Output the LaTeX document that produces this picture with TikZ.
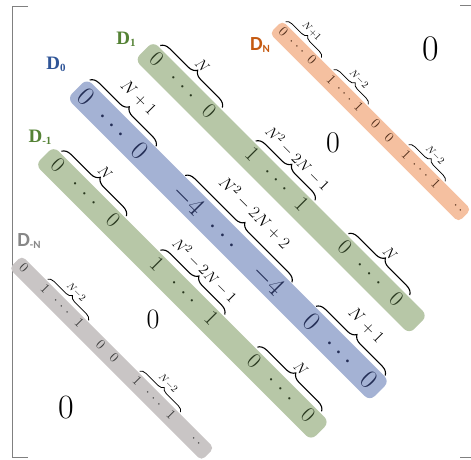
\documentclass[tikz,border=0pt]{standalone}
\usepackage{fix-cm}
\usepackage{fontspec}
\newfontfamily\serifbold{Liberation Serif}
\newfontfamily\carlito{Carlito}
\usetikzlibrary{decorations.pathreplacing}
\definecolor{gband}{RGB}{183,199,167}
\definecolor{bband}{RGB}{164,178,212}
\definecolor{oband}{RGB}{245,192,160}
\definecolor{yband}{RGB}{201,197,197}
\definecolor{glab}{RGB}{84,130,53}
\definecolor{blab}{RGB}{47,85,151}
\definecolor{olab}{RGB}{197,90,17}
\definecolor{ylab}{RGB}{135,135,135}
\definecolor{gtxt}{RGB}{40,55,30}
\definecolor{btxt}{RGB}{35,45,85}
\definecolor{otxt}{RGB}{80,45,25}
\definecolor{ytxt}{RGB}{60,60,60}
\definecolor{framecol}{RGB}{128,128,128}
\newcommand\lsub[1]{{\fontsize{11}{11}\selectfont\raisebox{-2pt}{#1}}}
\begin{document}
\begin{tikzpicture}[x=1pt,y=1pt,
  gt/.style={anchor=base,inner sep=0pt,text=gtxt,font=\fontsize{22}{22}\selectfont},
  bt/.style={anchor=base,inner sep=0pt,text=btxt,font=\fontsize{27}{27}\selectfont},
  ot/.style={anchor=base,inner sep=0pt,text=otxt,font=\fontsize{14}{14}\selectfont},
  yt/.style={anchor=base,inner sep=0pt,text=ytxt,font=\fontsize{14}{14}\selectfont},
  biglab/.style={anchor=south,inner sep=0.5pt,font=\fontsize{15}{15}\selectfont},
  blulab/.style={anchor=south,inner sep=0.5pt,font=\fontsize{17}{17}\selectfont},
  smalllab/.style={anchor=south,inner sep=0.5pt,font=\fontsize{10}{10}\selectfont},
  bigbrace/.style={decorate,decoration={brace,amplitude=9pt},line width=1.1pt},
  smallbrace/.style={decorate,decoration={brace,amplitude=6pt},line width=0.8pt},
  zero/.style={inner sep=0pt},
  dlab/.style={inner sep=0pt,font=\serifbold\bfseries\fontsize{19}{19}\selectfont},
  dlabs/.style={inner sep=0pt,font=\carlito\bfseries\fontsize{20}{20}\selectfont},
  bracketline/.style={draw=framecol,line width=1pt}
]
\useasboundingbox (0,0) rectangle (471,-460);

% matrix brackets
\draw[bracketline] (28,-7) -- (12,-7) -- (12,-457) -- (28,-457);
\draw[bracketline] (460,-6) -- (471,-6);
\draw[bracketline] (460,-457) -- (471,-457);

% ---------- D_N (orange) ----------
\begin{scope}[shift={(276,-27)},rotate=-45,transform shape]
\fill[oband,rounded corners=5pt] (0,-9) rectangle (267,9);
\node[ot] (na) at (8.5,-2.5) {$0$};
\node[ot] (nb) at (21,-2.5) {$\cdot$};
\node[ot] (nc) at (28.5,-2.5) {$\cdot$};
\node[ot] (nd) at (36,-2.5) {$\cdot$};
\node[ot] (ne) at (49,-2.5) {$0$};
\draw[smallbrace] (3,10.5) -- (54,10.5);
\node[smalllab] (nf) at (28.5,17.5) {$N{+}1$};
\node[ot] (ng) at (76,-2.5) {$1$};
\node[ot] (nh) at (88,-2.5) {$\cdot$};
\node[ot] (ni) at (95.5,-2.5) {$\cdot$};
\node[ot] (nj) at (103,-2.5) {$\cdot$};
\node[ot] (nk) at (115,-2.5) {$1$};
\draw[smallbrace] (71,10.5) -- (120,10.5);
\node[smalllab] (nl) at (95.5,17.5) {$N{-}2$};
\node[ot] (nm) at (139,-2.5) {$0$};
\node[ot] (nn) at (158,-2.5) {$0$};
\node[ot] (no) at (182,-2.5) {$1$};
\node[ot] (np) at (195,-2.5) {$\cdot$};
\node[ot] (nq) at (203,-2.5) {$\cdot$};
\node[ot] (nr) at (211,-2.5) {$\cdot$};
\node[ot] (ns) at (224,-2.5) {$1$};
\draw[smallbrace] (177,10.5) -- (229,10.5);
\node[smalllab] (nt) at (203,17.5) {$N{-}2$};
\node[ot] (nu) at (253,-2.5) {$\cdot$};
\node[ot] (nv) at (260,-2.5) {$\cdot$};
\end{scope}

% ---------- D_1 (green) ----------
\begin{scope}[shift={(144,-50.5)},rotate=-45,transform shape]
\fill[gband,rounded corners=7pt] (0,-13) rectangle (388,13);
\node[gt] (pa) at (15,-4) {$0$};
\node[gt] (pb) at (40,-4) {$\cdot$};
\node[gt] (pc) at (53,-4) {$\cdot$};
\node[gt] (pd) at (65,-4) {$\cdot$};
\node[gt] (pe) at (89,-4) {$0$};
\draw[bigbrace] (8,15) -- (96,15);
\node[biglab] (pf) at (52,25) {$N$};
\node[gt] (pg) at (150,-4) {$1$};
\node[gt] (ph) at (173,-4) {$\cdot$};
\node[gt] (pi) at (185,-4) {$\cdot$};
\node[gt] (pj) at (197,-4) {$\cdot$};
\node[gt] (pk) at (220,-4) {$1$};
\draw[bigbrace] (143,15) -- (227,15);
\node[biglab] (pl) at (185,25) {$N^2-2N-1$};
\node[gt] (pm) at (281,-4) {$0$};
\node[gt] (pn) at (304,-4) {$\cdot$};
\node[gt] (po) at (317,-4) {$\cdot$};
\node[gt] (pp) at (330,-4) {$\cdot$};
\node[gt] (pq) at (354,-4) {$0$};
\draw[bigbrace] (274,15) -- (361,15);
\node[biglab] (pr) at (317.5,25) {$N$};
\end{scope}

% ---------- D_0 (blue) ----------
\begin{scope}[shift={(77,-88.5)},rotate=-45,transform shape]
\fill[bband,rounded corners=7pt] (0,-14) rectangle (428,14);
\node[bt] (za) at (12,-8) {$0$};
\node[bt] (zb) at (38,-8) {$\cdot$};
\node[bt] (zc) at (51,-8) {$\cdot$};
\node[bt] (zd) at (63,-8) {$\cdot$};
\node[bt] (ze) at (88,-8) {$0$};
\draw[bigbrace] (3,15) -- (97,15);
\node[blulab] (zf) at (50,30) {$N+1$};
\node[bt] (zg) at (157,-8) {$-4$};
\node[bt] (zh) at (194,-8) {$\cdot$};
\node[bt] (zi) at (207,-8) {$\cdot$};
\node[bt] (zj) at (220,-8) {$\cdot$};
\node[bt] (zk) at (270,-8) {$-4$};
\draw[bigbrace] (138,15) -- (289,15);
\node[blulab] (zl) at (213.5,30) {$N^2-2N+2$};
\node[bt] (zm) at (331,-8) {$0$};
\node[bt] (zn) at (359,-8) {$\cdot$};
\node[bt] (zo) at (372,-8) {$\cdot$};
\node[bt] (zp) at (385,-8) {$\cdot$};
\node[bt] (zq) at (412,-8) {$0$};
\draw[bigbrace] (323,15) -- (421,15);
\node[blulab] (zr) at (372,30) {$N+1$};
\end{scope}

% ---------- D_{-1} (green) ----------
\begin{scope}[shift={(44.5,-155.5)},rotate=-45,transform shape]
\fill[gband,rounded corners=7pt] (0,-13) rectangle (390,13);
\node[gt] (ma) at (16,-4) {$0$};
\node[gt] (mb) at (42,-4) {$\cdot$};
\node[gt] (mc) at (55,-4) {$\cdot$};
\node[gt] (md) at (68,-4) {$\cdot$};
\node[gt] (me) at (94,-4) {$0$};
\draw[bigbrace] (9,15) -- (101,15);
\node[biglab] (mf) at (55,25) {$N$};
\node[gt] (mg) at (156,-4) {$1$};
\node[gt] (mh) at (182,-4) {$\cdot$};
\node[gt] (mi) at (195,-4) {$\cdot$};
\node[gt] (mj) at (207,-4) {$\cdot$};
\node[gt] (mk) at (233,-4) {$1$};
\draw[bigbrace] (149,15) -- (240,15);
\node[biglab] (ml) at (194.5,25) {$N^2-2N-1$};
\node[gt] (mm) at (293.5,-4) {$0$};
\node[gt] (mn) at (319,-4) {$\cdot$};
\node[gt] (mo) at (332,-4) {$\cdot$};
\node[gt] (mp) at (345,-4) {$\cdot$};
\node[gt] (mq) at (370,-4) {$0$};
\draw[bigbrace] (286,15) -- (377,15);
\node[biglab] (mr) at (332,25) {$N$};
\end{scope}

% ---------- D_{-N} (gray) ----------
\begin{scope}[shift={(15.5,-262)},rotate=-45,transform shape]
\fill[yband,rounded corners=5pt] (0,-9) rectangle (272,9);
\node[yt] (ya) at (10,-2.5) {$0$};
\node[yt] (yb) at (40,-2.5) {$1$};
\node[yt] (yc) at (56,-2.5) {$\cdot$};
\node[yt] (yd) at (64,-2.5) {$\cdot$};
\node[yt] (ye) at (72,-2.5) {$\cdot$};
\node[yt] (yf) at (88,-2.5) {$1$};
\draw[smallbrace] (35,10.5) -- (93,10.5);
\node[smalllab] (yg) at (64,17.5) {$N{-}2$};
\node[yt] (yh) at (118.5,-2.5) {$0$};
\node[yt] (yi) at (137.5,-2.5) {$0$};
\node[yt] (yj) at (170,-2.5) {$1$};
\node[yt] (yk) at (186,-2.5) {$\cdot$};
\node[yt] (yl) at (194,-2.5) {$\cdot$};
\node[yt] (ym) at (202,-2.5) {$\cdot$};
\node[yt] (yn) at (218,-2.5) {$1$};
\draw[smallbrace] (165,10.5) -- (223,10.5);
\node[smalllab] (yo) at (194,17.5) {$N{-}2$};
\node[yt] (yp) at (251,-2.5) {$\cdot$};
\node[yt] (yq) at (258,-2.5) {$\cdot$};
\end{scope}

% ---------- band labels ----------
\node[dlab,text=glab] (lab1) at (126,-39) {D\lsub{1}};
\node[dlab,text=blab] (lab0) at (56,-64) {D\lsub{0}};
\node[dlab,text=glab] (labm1) at (40,-137) {D\lsub{-1}};
\node[dlabs,text=olab] (labN) at (260,-45) {D\lsub{N}};
\node[dlabs,text=ylab] (labmN) at (29,-241) {D\lsub{-N}};

% ---------- zero blocks ----------
\node[zero,font=\fontsize{36}{36}\selectfont] (z1) at (431,-49) {0};
\node[zero,font=\fontsize{30}{30}\selectfont] (z2) at (333,-143) {0};
\node[zero,font=\fontsize{28}{28}\selectfont] (z3) at (153,-319) {0};
\node[zero,font=\fontsize{34}{34}\selectfont] (z4) at (66,-408) {0};
\end{tikzpicture}
\end{document}
